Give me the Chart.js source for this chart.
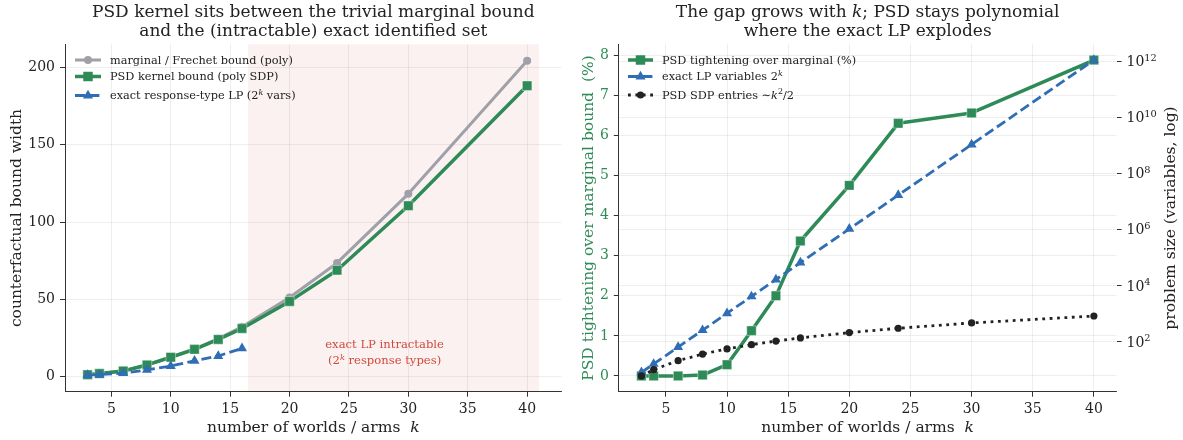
<!DOCTYPE html>
<html><head><meta charset="utf-8">
<script src="https://cdn.jsdelivr.net/npm/chart.js@4.4.1/dist/chart.umd.min.js"></script>
<style>
html,body{margin:0;padding:0;background:#fff;}
#wrap{position:relative;width:1183px;height:440px;overflow:hidden;}
canvas{position:absolute;left:0;top:0;}
</style>
</head><body>
<div id="wrap"><canvas id="c1" width="1183" height="440"></canvas><canvas id="c2" width="1183" height="440"></canvas></div>
<script>
// ---------------- data ----------------
const kValues       = [3, 4, 6, 8, 10, 12, 14, 16, 20, 24, 30, 40];
const marginalWidth = [1.3, 2.0, 3.7, 7.6, 12.6, 17.9, 24.6, 32.3, 51.2, 73.6, 118.3, 204.3];
const psdWidth      = [1.3, 2.0, 3.7, 7.6, 12.6, 17.7, 24.1, 31.2, 48.7, 68.9, 110.6, 188.2];
const exactK        = [3, 4, 6, 8, 10, 12, 14, 16];
const exactWidth    = [1.0, 1.4, 2.3, 4.4, 6.9, 10.3, 13.4, 18.3];
const tightening    = [0, 0, 0, 0.02, 0.28, 1.13, 2.0, 3.37, 4.76, 6.31, 6.57, 7.89];
const lpVariables   = [8, 16, 64, 256, 1024, 4096, 16384, 65536, 1048576, 16777216, 1073741824, 1099511627776];
const sdpEntries    = [6, 10, 21, 36, 55, 78, 105, 136, 210, 300, 465, 820];
const xTicks        = [5, 10, 15, 20, 25, 30, 35, 40];
const widthTicks    = [0, 50, 100, 150, 200];
const pctTicks      = [0, 1, 2, 3, 4, 5, 6, 7, 8];
const logTicks      = [1e2, 1e4, 1e6, 1e8, 1e10, 1e12];
const spanStart = 16.5, spanEnd = 41;
const noteX = 28, noteY = 15;

// ---------------- style ----------------
const FONT = '"DejaVu Serif", "Liberation Serif", serif';
const GREY = '#a0a0a8', GREEN = '#2e8b57', BLUE = '#2f6db5', BLACK = '#222222';
const GRID = 'rgba(0,0,0,0.085)', SPINE = '#333333', TXT = '#222222';
const SPAN = 'rgba(200,60,40,0.07)', NOTE = '#cf4a3c';
Chart.defaults.font.family = FONT;
Chart.defaults.animation = false;

function fontFor(p, size){ const s = p.sup ? size*0.7 : size; return (p.it ? 'italic ' : '') + s + 'px ' + FONT; }
function richWidth(ctx, parts, size){ let w = 0; for (const p of parts){ ctx.font = fontFor(p,size); w += ctx.measureText(p.t).width; } return w; }
function drawRich(ctx, parts, x, y, size, align, color){
  const w = richWidth(ctx, parts, size);
  let cx = align === 'center' ? x - w/2 : (align === 'right' ? x - w : x);
  ctx.save(); ctx.textAlign = 'left'; ctx.textBaseline = 'alphabetic'; ctx.fillStyle = color;
  for (const p of parts){ ctx.font = fontFor(p,size); ctx.fillText(p.t, cx, p.sup ? y - size*0.4 : y); cx += ctx.measureText(p.t).width; }
  ctx.restore();
}
function drawRotated(ctx, parts, cx, cy, size, color){
  ctx.save(); ctx.translate(cx, cy); ctx.rotate(-Math.PI/2);
  drawRich(ctx, parts, 0, size*0.36, size, 'center', color); ctx.restore();
}
function drawMarker(ctx, style, x, y, r, color){
  ctx.save(); ctx.fillStyle = color; ctx.beginPath();
  if (style === 'circle'){ ctx.arc(x, y, r, 0, Math.PI*2); }
  else if (style === 'rect'){ const s = Math.SQRT1_2*r; ctx.rect(x-s, y-s, 2*s, 2*s); }
  else if (style === 'triangle'){
    let a = 0; ctx.moveTo(x + Math.sin(a)*r, y - Math.cos(a)*r);
    a += 2*Math.PI/3; ctx.lineTo(x + Math.sin(a)*r, y - Math.cos(a)*r);
    a += 2*Math.PI/3; ctx.lineTo(x + Math.sin(a)*r, y - Math.cos(a)*r); ctx.closePath();
  }
  ctx.fill(); ctx.restore();
}
function drawLegend(ctx, items, x0, len, textX, size){
  for (const it of items){
    ctx.save(); ctx.strokeStyle = it.color; ctx.lineWidth = it.lw; ctx.setLineDash(it.dash || []);
    ctx.lineCap = 'butt'; ctx.beginPath(); ctx.moveTo(x0, it.y); ctx.lineTo(x0+len, it.y); ctx.stroke(); ctx.restore();
    drawMarker(ctx, it.marker, x0+len/2, it.y, it.r, it.color);
    drawRich(ctx, it.parts, textX, it.y + 3.9, size, 'left', TXT);
  }
}
const pts = (xs, ys) => xs.map((x, i) => ({x: x, y: ys[i]}));
const fixedTicks = arr => (s => { s.ticks = arr.map(v => ({value: v})); });
const gridOpts = () => ({color: GRID, lineWidth: 0.8, tickLength: 5, tickColor: SPINE, tickWidth: 1});
const TICK_SIZE = 14;
const tickFont = {size: TICK_SIZE, family: FONT};

const TITLE_SIZE = 17, LABEL_SIZE = 15.5, LEG_SIZE = 11.3, NOTE_SIZE = 11.6;

// ---------------- left chart ----------------
const leftPlugin = {
  id: 'leftDeco',
  beforeDraw(chart){
    const {ctx, chartArea: a, scales: {x}} = chart;
    const x0 = x.getPixelForValue(spanStart), x1 = x.getPixelForValue(spanEnd);
    ctx.save(); ctx.fillStyle = SPAN; ctx.fillRect(x0, a.top, x1 - x0, a.bottom - a.top); ctx.restore();
  },
  afterDraw(chart){
    const {ctx, chartArea: a, scales: {x, y}} = chart;
    const cx = (a.left + a.right)/2;
    drawRich(ctx, [{t:'PSD kernel sits between the trivial marginal bound'}], cx, 17, TITLE_SIZE, 'center', TXT);
    drawRich(ctx, [{t:'and the (intractable) exact identified set'}], cx, 36, TITLE_SIZE, 'center', TXT);
    drawRich(ctx, [{t:'number of worlds / arms  '},{t:'k', it:true}], cx, 431.5, LABEL_SIZE, 'center', TXT);
    drawRotated(ctx, [{t:'counterfactual bound width'}], 15.5, (a.top + a.bottom)/2, LABEL_SIZE, TXT);
    const nx = x.getPixelForValue(noteX), ny = y.getPixelForValue(noteY);
    drawRich(ctx, [{t:'exact LP intractable'}], nx, ny - 5.5, NOTE_SIZE, 'center', NOTE);
    drawRich(ctx, [{t:'(2'},{t:'k', it:true, sup:true},{t:' response types)'}], nx, ny + 10.8, NOTE_SIZE, 'center', NOTE);
    drawLegend(ctx, [
      {y: 60,   color: GREY,  lw: 3,   marker: 'circle',   r: 4,   parts: [{t:'marginal / Frechet bound (poly)'}]},
      {y: 76.5, color: GREEN, lw: 3.5, marker: 'rect',     r: 6.7, parts: [{t:'PSD kernel bound (poly SDP)'}]},
      {y: 95.5, color: BLUE,  lw: 2.8, marker: 'triangle', r: 5.8, dash: [10, 4.4], parts: [{t:'exact response-type LP (2'},{t:'k', it:true, sup:true},{t:' vars)'}]}
    ], 75, 26, 110, LEG_SIZE);
  }
};

new Chart(document.getElementById('c1'), {
  type: 'line',
  data: { datasets: [
    {label: 'marginal', data: pts(kValues, marginalWidth), order: 3, borderColor: GREY, backgroundColor: GREY,
     borderWidth: 3, tension: 0, pointStyle: 'circle', pointRadius: 4, pointBorderWidth: 0, borderJoinStyle: 'round'},
    {label: 'psd', data: pts(kValues, psdWidth), order: 2, borderColor: GREEN, backgroundColor: GREEN,
     borderWidth: 3.5, tension: 0, pointStyle: 'rect', pointRadius: 6.7, pointBorderWidth: 0.8, pointBorderColor: 'rgba(255,255,255,0.5)', borderJoinStyle: 'round'},
    {label: 'exact', data: pts(exactK, exactWidth), order: 1, borderColor: BLUE, backgroundColor: BLUE,
     borderWidth: 2.8, borderDash: [10, 4.4], tension: 0, pointStyle: 'triangle', pointRadius: 5.8, pointBorderWidth: 0}
  ]},
  options: {
    responsive: false, animation: false, devicePixelRatio: 1,
    layout: {padding: {left: 0, top: 44.3, right: 1183 - 561.6, bottom: 0}},
    plugins: {legend: {display: false}, title: {display: false}, tooltip: {enabled: false}},
    scales: {
      x: {type: 'linear', min: 1.1, max: 42.9, afterBuildTicks: fixedTicks(xTicks), afterFit: s => { s.height = 48.3; },
          ticks: {autoSkip: false, maxRotation: 0, padding: 4, font: tickFont, color: TXT},
          grid: gridOpts(), border: {display: true, color: SPINE, width: 1}},
      y: {type: 'linear', min: -9.7, max: 215, afterBuildTicks: fixedTicks(widthTicks), afterFit: s => { s.width = 65; },
          ticks: {padding: 5, font: tickFont, color: TXT},
          grid: gridOpts(), border: {display: true, color: SPINE, width: 1}}
    }
  },
  plugins: [leftPlugin]
});

// ---------------- right chart ----------------
const rightPlugin = {
  id: 'rightDeco',
  afterDraw(chart){
    const {ctx, chartArea: a, scales: {y2}} = chart;
    const cx = (a.left + a.right)/2;
    drawRich(ctx, [{t:'The gap grows with '},{t:'k', it:true},{t:'; PSD stays polynomial'}], cx, 17, TITLE_SIZE, 'center', TXT);
    drawRich(ctx, [{t:'where the exact LP explodes'}], cx, 36, TITLE_SIZE, 'center', TXT);
    drawRich(ctx, [{t:'number of worlds / arms  '},{t:'k', it:true}], cx, 431.5, LABEL_SIZE, 'center', TXT);
    drawRotated(ctx, [{t:'PSD tightening over marginal bound  (%)'}], 587, (a.top + a.bottom)/2, LABEL_SIZE, GREEN);
    drawRotated(ctx, [{t:'problem size (variables, log)'}], 1169, (a.top + a.bottom)/2, LABEL_SIZE, TXT);
    for (const v of logTicks){
      const py = y2.getPixelForValue(v);
      const e = String(Math.round(Math.log10(v)));
      drawRich(ctx, [{t:'10'},{t:e, sup:true}], a.right + 10, py + 5, TICK_SIZE, 'left', TXT);
    }
    drawLegend(ctx, [
      {y: 60,   color: GREEN, lw: 3.5, marker: 'rect',     r: 6.7, parts: [{t:'PSD tightening over marginal (%)'}]},
      {y: 76.5, color: BLUE,  lw: 2.8, marker: 'triangle', r: 5.8, dash: [10, 4.4], parts: [{t:'exact LP variables 2'},{t:'k', it:true, sup:true}]},
      {y: 95,   color: BLACK, lw: 2.8, marker: 'circle',   r: 3.6, dash: [2.8, 4.6], parts: [{t:'PSD SDP entries '},{t:'\u223C'},{t:'k', it:true},{t:'2', sup:true},{t:'/2'}]}
    ], 628, 25, 662, LEG_SIZE);
  }
};

new Chart(document.getElementById('c2'), {
  type: 'line',
  data: { datasets: [
    {label: 'tight', data: pts(kValues, tightening), yAxisID: 'y', order: 3, borderColor: GREEN, backgroundColor: GREEN,
     borderWidth: 3.5, tension: 0, pointStyle: 'rect', pointRadius: 6.7, pointBorderWidth: 0.8, pointBorderColor: 'rgba(255,255,255,0.5)', borderJoinStyle: 'round'},
    {label: 'lp', data: pts(kValues, lpVariables), yAxisID: 'y2', order: 2, borderColor: BLUE, backgroundColor: BLUE,
     borderWidth: 2.8, borderDash: [10, 4.4], tension: 0, pointStyle: 'triangle', pointRadius: 5.8, pointBorderWidth: 0},
    {label: 'sdp', data: pts(kValues, sdpEntries), yAxisID: 'y2', order: 1, borderColor: BLACK, backgroundColor: BLACK,
     borderWidth: 2.8, borderDash: [2.8, 4.6], tension: 0, pointStyle: 'circle', pointRadius: 3.6, pointBorderWidth: 0}
  ]},
  options: {
    responsive: false, animation: false, devicePixelRatio: 1,
    layout: {padding: {left: 618.8 - 60, top: 44.3, right: 0, bottom: 0}},
    plugins: {legend: {display: false}, title: {display: false}, tooltip: {enabled: false}},
    scales: {
      x: {type: 'linear', min: 1.15, max: 41.85, afterBuildTicks: fixedTicks(xTicks), afterFit: s => { s.height = 48.3; },
          ticks: {autoSkip: false, maxRotation: 0, padding: 4, font: tickFont, color: TXT},
          grid: gridOpts(), border: {display: true, color: SPINE, width: 1}},
      y: {type: 'linear', position: 'left', min: -0.395, max: 8.285, afterBuildTicks: fixedTicks(pctTicks), afterFit: s => { s.width = 60; },
          ticks: {padding: 5, font: tickFont, color: GREEN},
          grid: gridOpts(), border: {display: true, color: SPINE, width: 1}},
      y2: {type: 'logarithmic', position: 'right', min: Math.pow(10, 0.215), max: Math.pow(10, 12.604),
          afterBuildTicks: fixedTicks(logTicks), afterFit: s => { s.width = 1183 - 1116.5; },
          ticks: {display: false},
          grid: gridOpts(), border: {display: false}}
    }
  },
  plugins: [rightPlugin]
});
</script>
</body></html>
